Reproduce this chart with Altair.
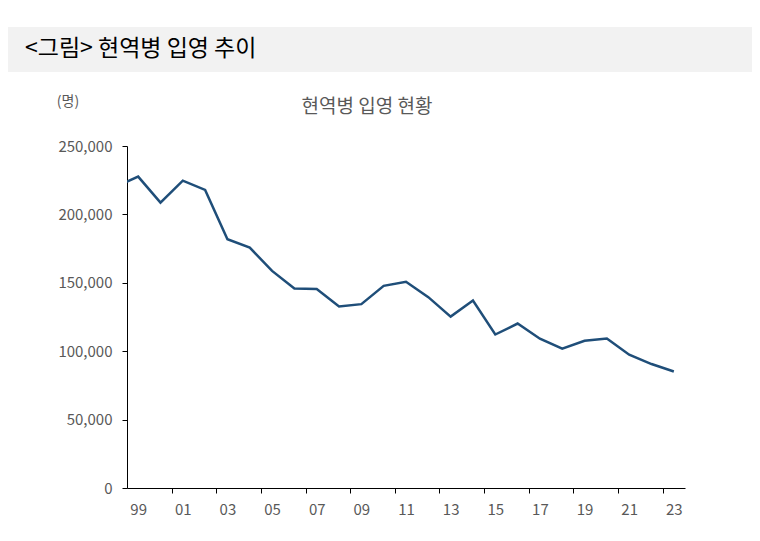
import altair as alt
import pandas as pd

# ---- data ----
years = list(range(1998, 2024))
recruits = [220400, 227600, 208600, 224700, 217900, 181900, 175700, 158700,
            145800, 145400, 132700, 134400, 147800, 150700, 139500, 125300,
            137000, 112200, 120200, 109100, 101800, 107600, 109300, 97400,
            90600, 85200]
label_years = list(range(1999, 2024, 2))
tick_positions = [y + 0.5 for y in range(2000, 2023, 2)]
y_ticks = [0, 50000, 100000, 150000, 200000, 250000]
x_domain = [1998.5, 2023.5]
y_domain = [0, 250000]

main_title = "<그림> 현역병 입영 추이"
sub_title = "현역병 입영 현황"
unit_label = "(명)"

FONT = "Noto Sans CJK KR"
W, H = 558, 342

df = pd.DataFrame({"year": years, "value": recruits})
x_axis_values = sorted(label_years + tick_positions)

bg = alt.Chart(pd.DataFrame({"a": [0]})).mark_rect(color="#f2f2f2").encode(
    x=alt.value(-120), x2=alt.value(627), y=alt.value(-119), y2=alt.value(-74)
)

title_txt = alt.Chart(pd.DataFrame({"t": [main_title]})).mark_text(
    align="left", baseline="middle", font=FONT, fontSize=23, color="#000000"
).encode(text="t:N", x=alt.value(-102), y=alt.value(-97))

sub_txt = alt.Chart(pd.DataFrame({"t": [sub_title]})).mark_text(
    align="center", baseline="middle", font=FONT, fontSize=19, color="#595959"
).encode(text="t:N", x=alt.value(240), y=alt.value(-39))

unit_txt = alt.Chart(pd.DataFrame({"t": [unit_label]})).mark_text(
    align="center", baseline="middle", font=FONT, fontSize=14, color="#595959"
).encode(text="t:N", x=alt.value(-59), y=alt.value(-44))

line = alt.Chart(df).mark_line(color="#1f4e79", strokeWidth=2.5, clip=True).encode(
    x=alt.X("year:Q",
            scale=alt.Scale(domain=x_domain, nice=False, zero=False),
            axis=alt.Axis(values=x_axis_values,
                          labelExpr="datum.value % 1 == 0 ? substring(toString(datum.value), 2, 4) : ''",
                          ticks=True, tickSize=5, tickColor="#000000",
                          tickOpacity=alt.condition("datum.value % 1 == 0",
                                                    alt.value(0), alt.value(1)),
                          grid=False, title=None,
                          labelPadding=9, labelFont=FONT, labelFontSize=15,
                          labelColor="#595959", domainColor="#000000",
                          labelOverlap=False, labelFlush=False)),
    y=alt.Y("value:Q", scale=alt.Scale(domain=y_domain, nice=False),
            axis=alt.Axis(values=y_ticks, format=",d", grid=False, title=None,
                          labelFont=FONT, labelFontSize=15, labelColor="#595959",
                          tickSize=5, tickColor="#000000", domainColor="#000000",
                          labelPadding=10)),
)

chart = alt.layer(bg, title_txt, sub_txt, unit_txt, line).properties(
    width=W, height=H,
    autosize=alt.AutoSizeParams(type="none"),
    padding={"left": 119, "top": 138, "right": 67, "bottom": 45},
).configure_view(stroke=None)

chart.save("out.html", embed_options={"renderer": "svg", "actions": False})
